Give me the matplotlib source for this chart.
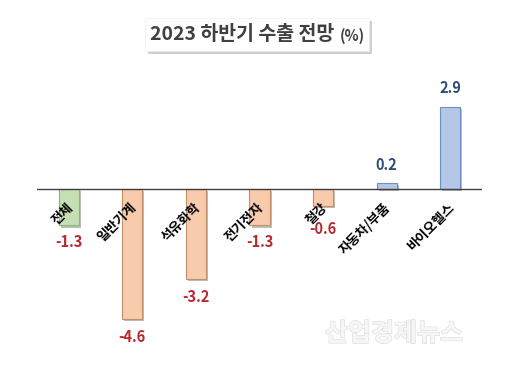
import matplotlib
matplotlib.use("Agg")
import matplotlib.pyplot as plt
import matplotlib.patheffects as pe
from matplotlib.patches import Rectangle

plt.rcParams['font.family'] = ['Noto Sans CJK KR', 'DejaVu Sans']

categories = ['전체', '일반기계', '석유화학', '전기전자', '철강', '자동차/부품', '바이오헬스']
values = [-1.3, -4.6, -3.2, -1.3, -0.6, 0.2, 2.9]
value_labels = ['-1.3', '-4.6', '-3.2', '-1.3', '-0.6', '0.2', '2.9']

face_colors = ['#c6e0b4', '#f8cbad', '#f8cbad', '#f8cbad', '#f8cbad', '#b4c7e7', '#b4c7e7']
edge_colors = ['#8fb47a', '#c0906c', '#c0906c', '#c0906c', '#c0906c', '#6f8fc0', '#6f8fc0']
label_gap = [12, 13, 13, 12, 17, 13, 14]  # points between bar end and value label

W, H = 508, 389
fig = plt.figure(figsize=(W / 100, H / 100), dpi=100)
ax = fig.add_axes([37 / W, 1 - 358 / H, 445 / W, 282 / H])

x = range(len(categories))
bars = ax.bar(x, values, width=0.315, color=face_colors, edgecolor=edge_colors, linewidth=0.8)
for b in bars:
    b.set_path_effects([pe.SimplePatchShadow(offset=(1.5, -1.5), alpha=0.35), pe.Normal()])

ax.axhline(0, color='#404040', lw=1.0, zorder=3)
ax.set_xlim(-0.5, 6.5)
ax.set_ylim(-6, 4)
ax.axis('off')

for i, (v, lab) in enumerate(zip(values, value_labels)):
    sign = 1 if v >= 0 else -1
    ax.annotate(lab, (i, v), xytext=(0, sign * label_gap[i]), textcoords='offset points',
                ha='center', va='center', fontsize=10.5, fontweight='bold',
                color='#2e4a78' if v >= 0 else '#b8282e')
    ax.annotate(categories[i], (i, 0), xytext=(1.5, -12), textcoords='offset points',
                ha='right', va='center', rotation=45, rotation_mode='anchor',
                fontsize=9.5, fontweight='bold', color='black')

# title box with shadow
bx, by, bw, bh = 145 / W, 1 - 51 / H, 224 / W, 33 / H
fig.patches.append(Rectangle((bx + 3 / W, by - 3 / H), bw, bh, transform=fig.transFigure,
                             facecolor='#b0b0b0', edgecolor='none', alpha=0.6))
fig.patches.append(Rectangle((bx, by), bw, bh, transform=fig.transFigure,
                             facecolor='white', edgecolor='#eeeeee', lw=0.5))
fig.text(334 / W, 1 - 35 / H, '2023 하반기 수출 전망', ha='right', va='center',
         fontsize=14, fontweight='bold', color='#404040')
fig.text(340 / W, 1 - 36 / H, '(%)', ha='left', va='center',
         fontsize=10.5, fontweight='bold', color='#404040')

# watermark
fig.text(394 / W, 1 - 334 / H, '산업경제뉴스', ha='center', va='center', fontsize=18,
         fontweight='bold', color='#f6f6f6',
         path_effects=[pe.withStroke(linewidth=1.0, foreground='#dcdcdc'), pe.Normal()])

fig.savefig('out.png', dpi=100)
